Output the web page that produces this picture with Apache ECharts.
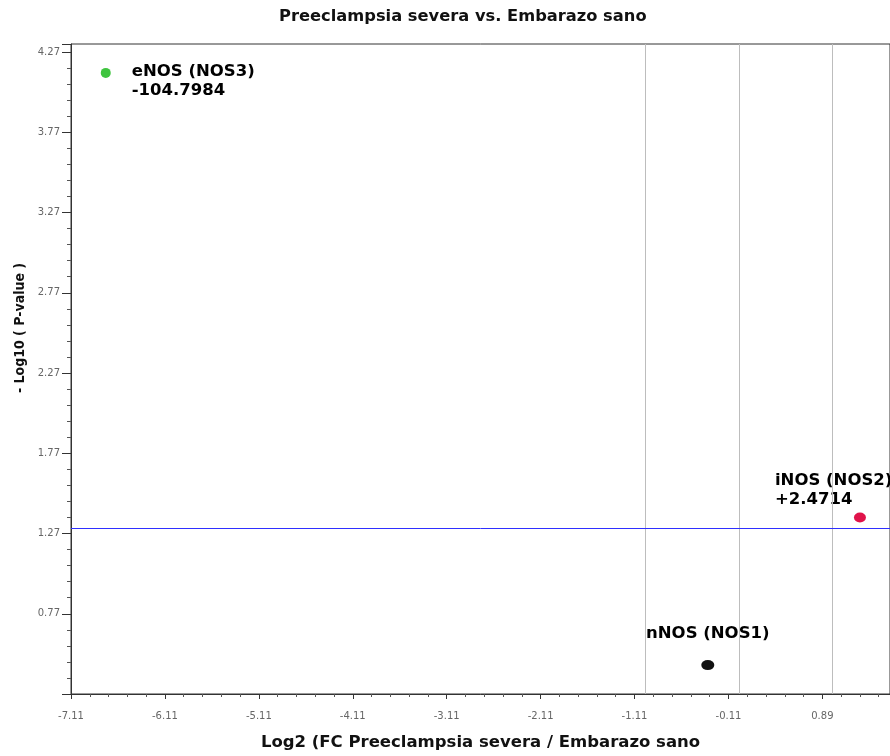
<!DOCTYPE html>
<html>
<head>
<meta charset="utf-8">
<script src="https://cdn.jsdelivr.net/npm/echarts@6/dist/echarts.min.js"></script>
<style>
html,body{margin:0;padding:0;background:#fff;}
#chart{width:890px;height:756px;}
</style>
</head>
<body>
<div id="chart"></div>
<script>
// ---- data ----
const genes = ['eNOS (NOS3)', 'iNOS (NOS2)', 'nNOS (NOS1)'];
const foldChanges = ['-104.7984', '+2.4714', ''];
const log2FC = [-6.74, 1.29, -0.33];
const negLog10P = [4.14, 1.37, 0.45];
const foldThresholds = [-1, 0, 1];
const pThreshold = 1.30;
const titleText = 'Preeclampsia severa vs. Embarazo sano';
const xName = 'Log2 (FC Preeclampsia severa / Embarazo sano';
const yName = '- Log10 ( P-value )';

// ---- styles ----
const pointColors = ['#3fc43f', '#e0134a', '#111111'];
const pointSizes = [[10, 10], [12, 10], [13, 10]];
const labelPos = [[31, -6], [-79, -41], [6.5, -26.5]];
const labelAlign = ['left', 'left', 'center'];
const labelVAlign = ['top', 'top', 'middle'];

const data = genes.map((g, i) => ({
  name: g,
  value: [log2FC[i], negLog10P[i]],
  symbolSize: pointSizes[i],
  itemStyle: { color: pointColors[i], opacity: 1 },
  label: {
    show: true,
    formatter: foldChanges[i] ? g + '\n' + foldChanges[i] : g,
    position: labelPos[i],
    align: labelAlign[i],
    verticalAlign: labelVAlign[i]
  }
}));

const chart = echarts.init(document.getElementById('chart'), null, { renderer: 'canvas' });
const tickFont = { fontFamily: 'DejaVu Sans', fontSize: 10, color: '#666' };
chart.setOption({
  animation: false,
  backgroundColor: '#fff',
  title: {
    text: titleText,
    left: 279, top: 9, padding: 0,
    textStyle: { fontFamily: 'DejaVu Sans', fontWeight: 'bold', fontSize: 16.3, color: '#111' }
  },
  grid: { left: 71, right: 0, top: 44, bottom: 59, show: true, borderColor: '#333', borderWidth: 1, backgroundColor: 'transparent' },
  xAxis: {
    type: 'value',
    min: -7.11, max: 1.61, interval: 1,
    name: xName, nameLocation: 'middle', nameGap: 40,
    nameTextStyle: { fontFamily: 'DejaVu Sans', fontWeight: 'bold', fontSize: 16.5, color: '#111' },
    axisLine: { show: true, onZero: false, lineStyle: { color: '#333', width: 1 } },
    axisTick: { show: true, inside: false, length: 5, lineStyle: { color: '#333' } },
    minorTick: { show: true, splitNumber: 5, length: 3, lineStyle: { color: '#555' } },
    axisLabel: Object.assign({ margin: 17, showMaxLabel: false, showMinLabel: true, formatter: v => v.toFixed(2) }, tickFont),
    splitLine: { show: false }
  },
  yAxis: {
    type: 'value',
    min: 0.27, max: 4.32, interval: 0.5,
    axisLine: { show: true, onZero: false, lineStyle: { color: '#333', width: 1 } },
    axisTick: { show: true, inside: false, length: 9, lineStyle: { color: '#333' } },
    minorTick: { show: true, splitNumber: 5, length: 4, lineStyle: { color: '#555' } },
    axisLabel: Object.assign({ margin: 11, showMaxLabel: false, showMinLabel: false, formatter: v => v.toFixed(2) }, tickFont),
    splitLine: { show: false }
  },
  graphic: [{
    type: 'text',
    x: 20, y: 328,
    rotation: Math.PI / 2,
    style: {
      text: yName,
      font: 'bold 14px "DejaVu Sans Condensed", "DejaVu Sans"',
      fill: '#111',
      align: 'center', verticalAlign: 'middle',
      textAlign: 'center', textVerticalAlign: 'middle'
    }
  }],
  series: [{
    type: 'scatter',
    symbol: 'circle',
    data: data,
    itemStyle: { opacity: 1 },
    label: {
      fontFamily: 'DejaVu Sans', fontWeight: 'bold', fontSize: 16.5, color: '#000', opacity: 1, lineHeight: 19
    },
    emphasis: { disabled: true },
    markLine: {
      silent: true,
      symbol: 'none',
      label: { show: false },
      data: foldThresholds.map(v => ({ xAxis: v, lineStyle: { color: '#bdbdbd', width: 1, type: 'solid', opacity: 1 } }))
        .concat([{ yAxis: pThreshold, lineStyle: { color: '#2f2fff', width: 1, type: 'solid', opacity: 1 } }])
    }
  }]
});
</script>
</body>
</html>
